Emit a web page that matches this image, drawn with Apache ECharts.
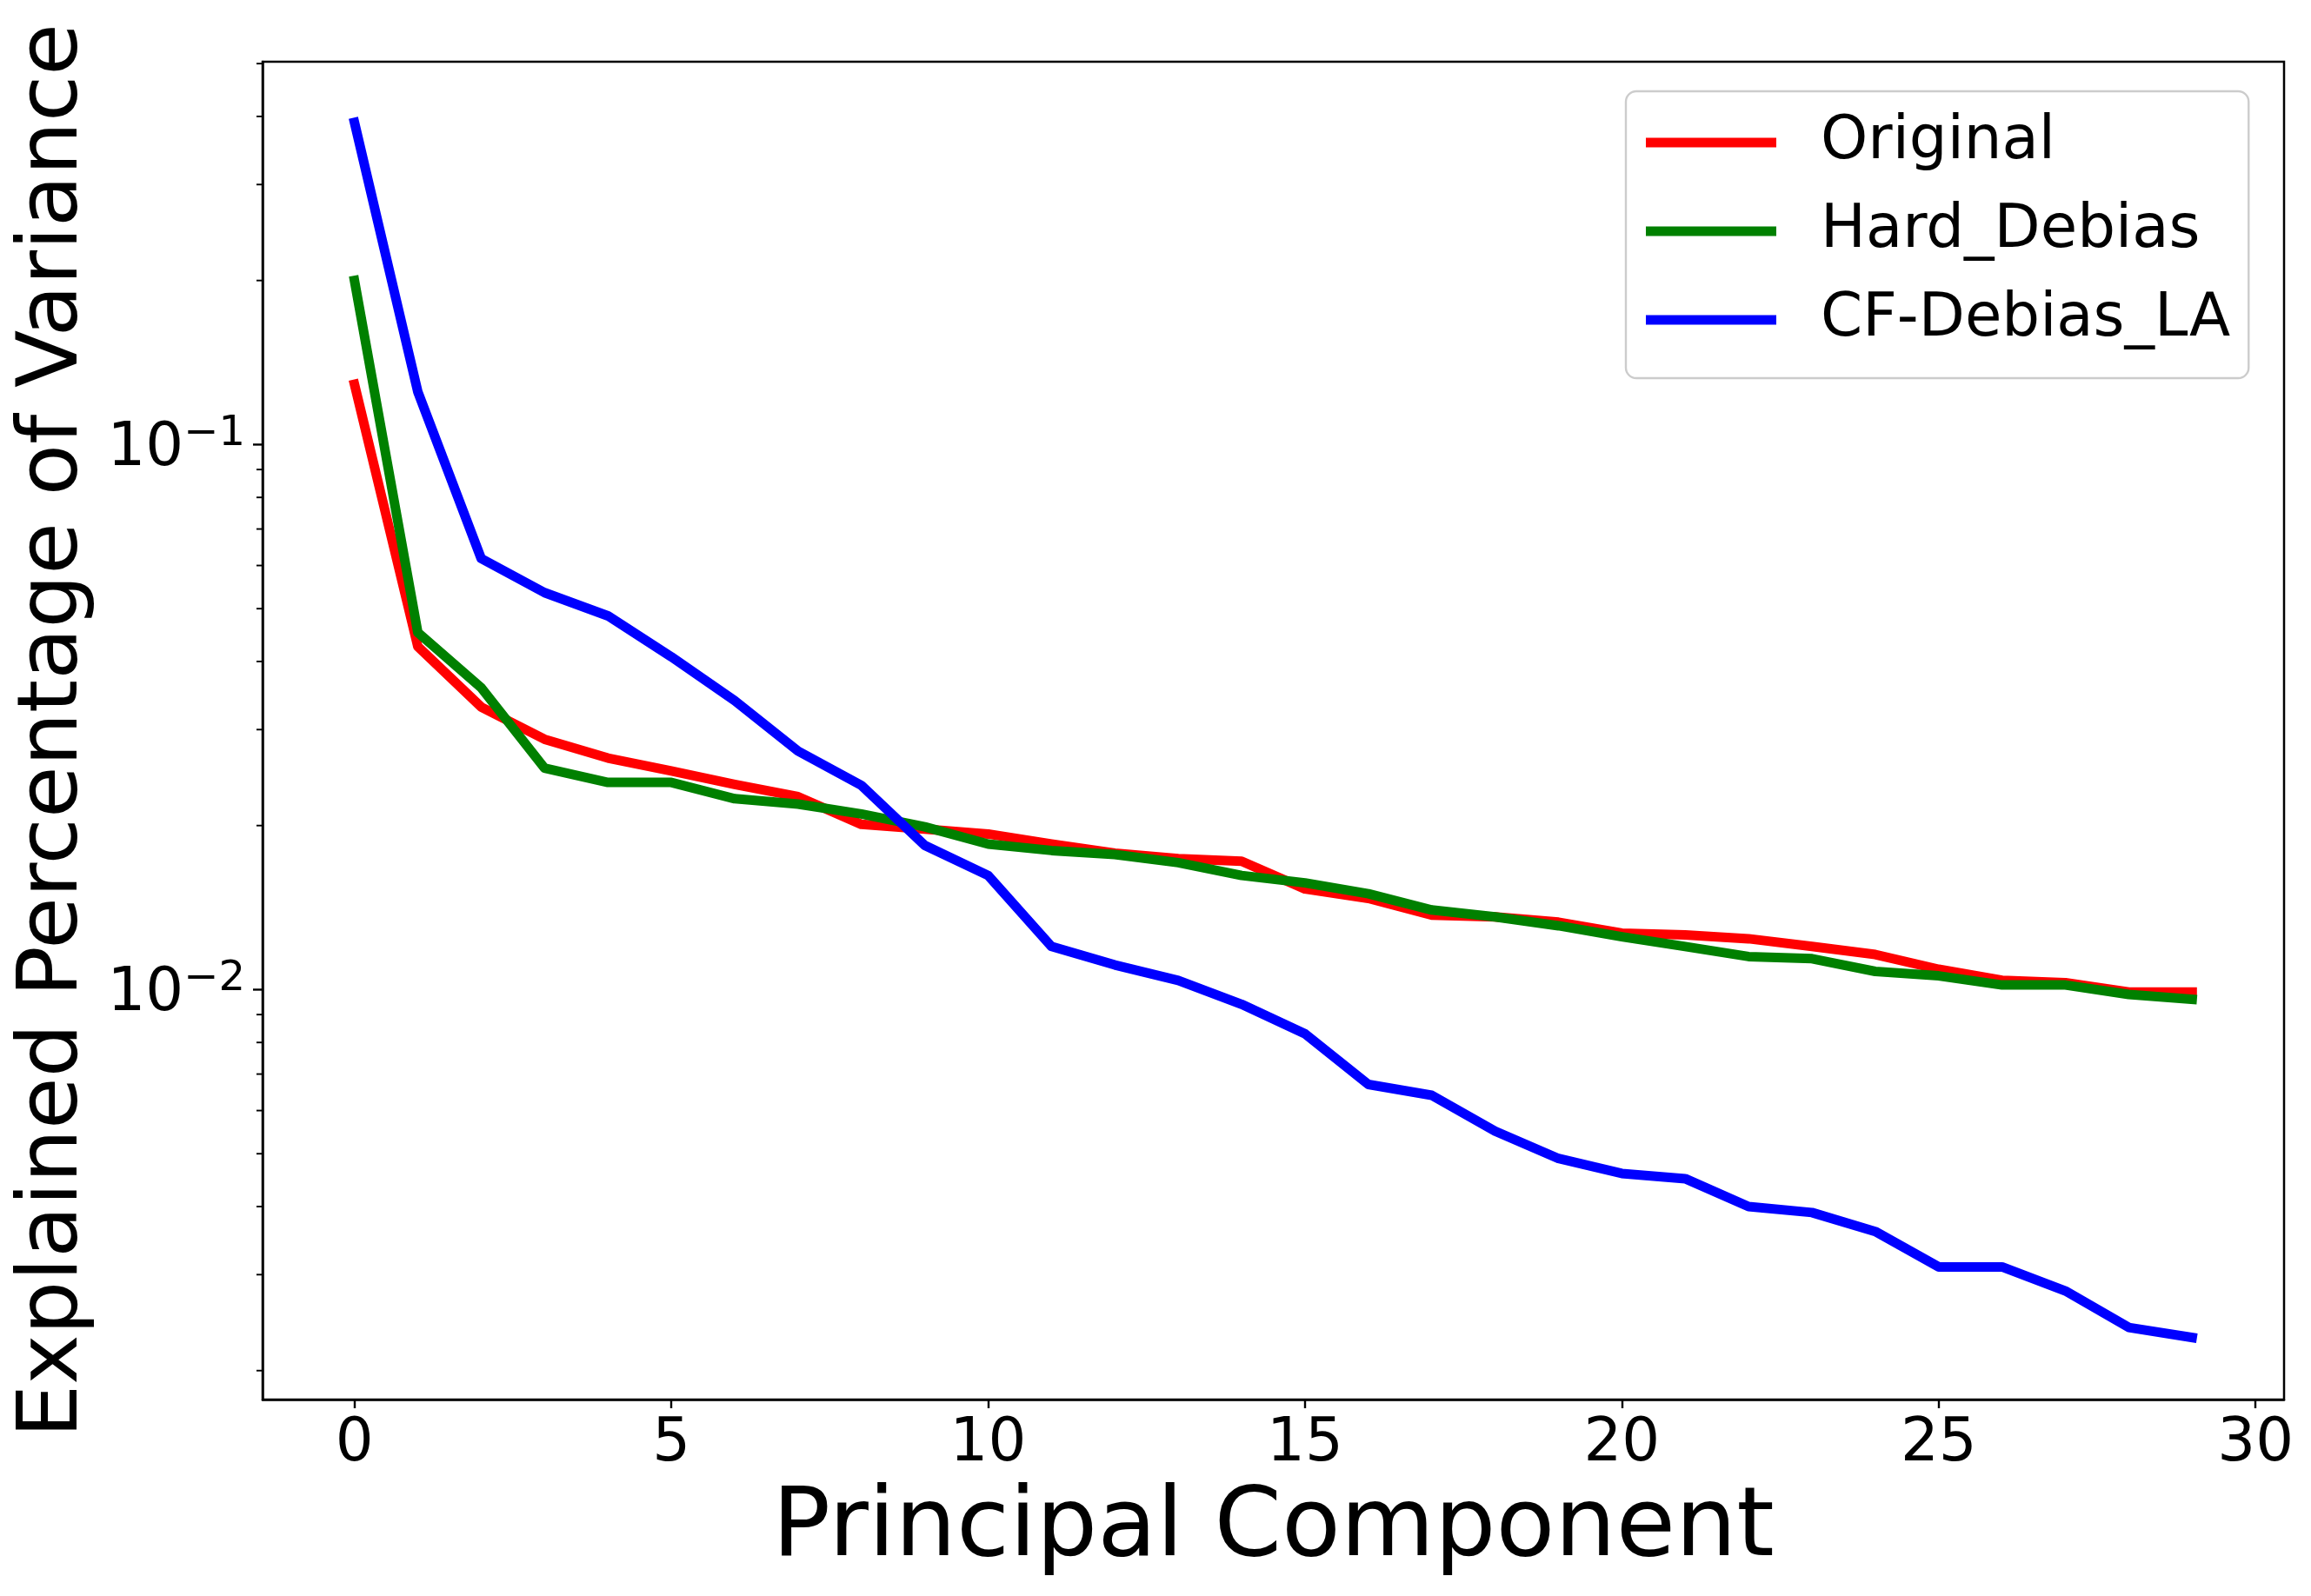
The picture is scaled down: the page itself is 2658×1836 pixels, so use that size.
<!DOCTYPE html>
<html>
<head>
<meta charset="utf-8">
<script src="https://cdn.jsdelivr.net/npm/echarts@6/dist/echarts.min.js"></script>
<style>
html,body{margin:0;padding:0;background:#fff;}
#chart{width:2658px;height:1836px;}
</style>
</head>
<body>
<div id="chart"></div>
<script>
// ---- data ----
const components = [0,1,2,3,4,5,6,7,8,9,10,11,12,13,14,15,16,17,18,19,20,21,22,23,24,25,26,27,28,29];
const original = [0.129,0.0426,0.033,0.0288,0.0266,0.0252,0.0238,0.0226,0.0201,0.0197,0.0193,0.0185,0.0178,0.0174,0.0172,0.0153,0.0147,0.0137,0.0136,0.0133,0.0127,0.0126,0.0124,0.0120,0.0116,0.0109,0.0104,0.0103,0.0099,0.0099];
const hardDebias = [0.200,0.0452,0.0358,0.0255,0.0240,0.0240,0.0224,0.0219,0.0210,0.0199,0.0185,0.0180,0.0177,0.0171,0.0162,0.0157,0.0150,0.0140,0.0136,0.0131,0.0125,0.0120,0.0115,0.0114,0.0108,0.0106,0.0102,0.0102,0.0098,0.0096];
const cfDebiasLA = [0.390,0.125,0.0618,0.0535,0.0485,0.0408,0.0339,0.0274,0.0237,0.0184,0.0162,0.0120,0.0111,0.0104,0.0094,0.0083,0.0067,0.0064,0.0055,0.0049,0.0046,0.0045,0.0040,0.0039,0.0036,0.0031,0.0031,0.0028,0.0024,0.0023];
const seriesNames = ['Original','Hard_Debias','CF-Debias_LA'];
const xTickValues = [0,5,10,15,20,25,30];
const yMajorTicks = [0.01,0.1];
const yMinorTicks = [0.002,0.003,0.004,0.005,0.006,0.007,0.008,0.009,0.02,0.03,0.04,0.05,0.06,0.07,0.08,0.09,0.2,0.3,0.4,0.5];

const FONT = 'DejaVu Sans';
const chart = echarts.init(document.getElementById('chart'), null, {renderer:'canvas'});

function mk(name, vals, color){
  return {
    name: name, type:'line', showSymbol:false, symbol:'none', animation:false,
    data: components.map((x,i)=>[x, vals[i]]),
    lineStyle:{color:color, width:11, cap:'square', join:'round'},
    itemStyle:{color:color}
  };
}

const option = {
  animation:false,
  backgroundColor:'#ffffff',
  grid:{left:302, right:31, top:71, bottom:226, show:true, borderColor:'#000', borderWidth:2.5, backgroundColor:'transparent'},
  legend:{
    orient:'vertical', left:1870, top:105,
    padding:[16,21,24,23],
    itemWidth:150, itemHeight:11, itemGap:16,
    icon:'rect',
    backgroundColor:'#fff', borderColor:'#cccccc', borderWidth:2.4, borderRadius:12,
    textStyle:{fontFamily:FONT, fontSize:69, color:'#000', lineHeight:70, padding:[16,0,0,46]},
    data: seriesNames
  },
  xAxis:{
    type:'value', min:-1.45, max:30.45,
    name:'Principal Component', nameLocation:'middle', nameGap:95,
    nameTextStyle:{fontFamily:FONT, fontSize:111, lineHeight:111, color:'#000'},
    axisLine:{show:true, onZero:false, lineStyle:{color:'#000', width:2.5}},
    axisTick:{show:true, inside:false, length:10, lineStyle:{color:'#000', width:2.4}, customValues:xTickValues},
    axisLabel:{fontFamily:FONT, fontSize:69, lineHeight:69, color:'#000', margin:18, customValues:xTickValues},
    splitLine:{show:false}
  },
  yAxis:{
    type:'log', logBase:10, min:0.00177, max:0.504,
    name:'Explained Percentage of Variance', nameLocation:'middle', nameGap:191,
    nameTextStyle:{fontFamily:FONT, fontSize:97, lineHeight:97, color:'#000'},
    axisLine:{show:true, onZero:false, lineStyle:{color:'#000', width:2.5}},
    axisTick:{show:false},
    splitLine:{show:false},
    axisLabel:{
      margin:20, color:'#000', fontFamily:FONT,
      formatter:function(v){
        const e = Math.round(Math.log10(v));
        const p = Math.pow(10,e);
        if (Math.abs(v-p)/p < 1e-6 && yMajorTicks.some(t=>Math.abs(t-p)/p<1e-6)) {
          return '{m|10}{e|' + (e<0?'\u2212':'') + Math.abs(e) + '}';
        }
        return '';
      },
      rich:{
        m:{fontFamily:FONT, fontSize:69, lineHeight:69, color:'#000', padding:[12,0,0,0]},
        e:{fontFamily:FONT, fontSize:48, lineHeight:48, color:'#000', padding:[0,0,24,0]}
      }
    }
  },
  series:[
    mk(seriesNames[0], original, '#ff0000'),
    mk(seriesNames[1], hardDebias, '#008000'),
    mk(seriesNames[2], cfDebiasLA, '#0000ff')
  ]
};
chart.setOption(option);

// y-axis ticks (major + minor) placed through the axis scale
const x0 = chart.convertToPixel({xAxisIndex:0}, -1.45);
const els = [];
yMajorTicks.forEach(v=>{
  const y = chart.convertToPixel({yAxisIndex:0}, v);
  els.push({type:'line', silent:true, shape:{x1:x0-11, y1:y, x2:x0, y2:y}, style:{stroke:'#000', lineWidth:2.4}});
});
yMinorTicks.forEach(v=>{
  const y = chart.convertToPixel({yAxisIndex:0}, v);
  els.push({type:'line', silent:true, shape:{x1:x0-7, y1:y, x2:x0, y2:y}, style:{stroke:'#000', lineWidth:1.9}});
});
chart.setOption({graphic:{elements:els}});
</script>
</body>
</html>
